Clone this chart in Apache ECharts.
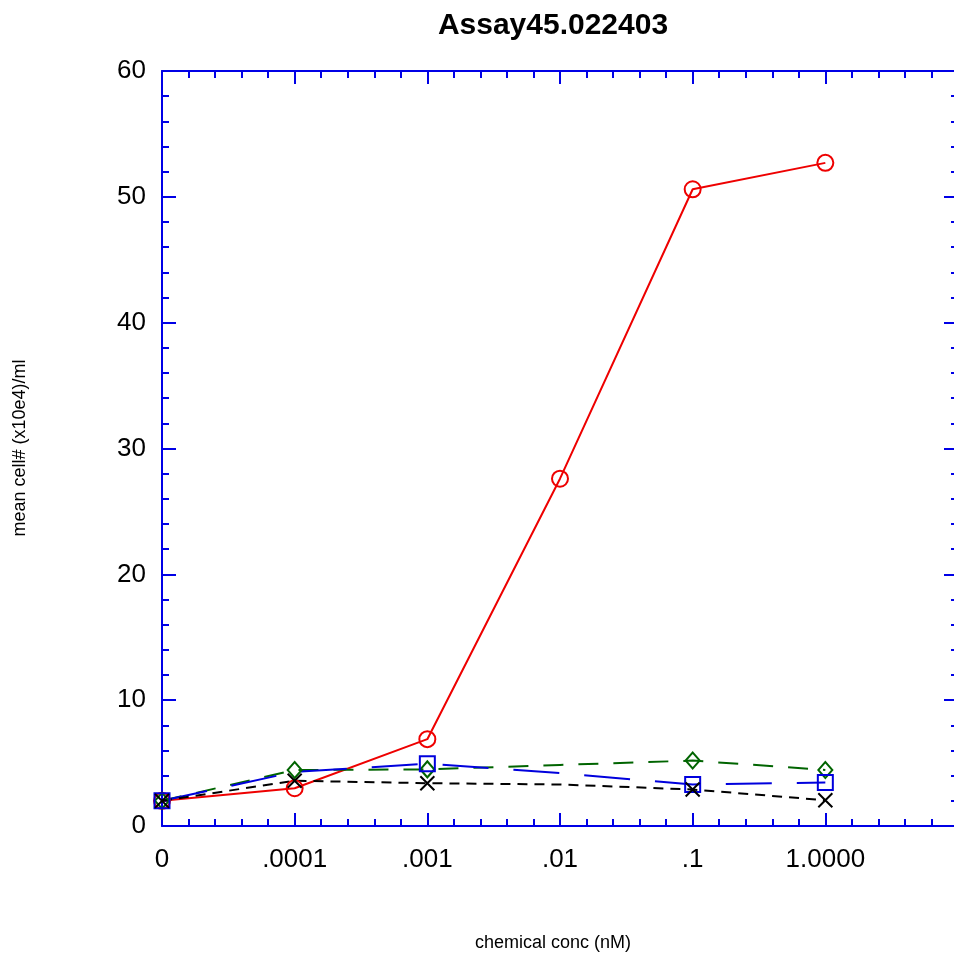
<!DOCTYPE html>
<html>
<head>
<meta charset="utf-8">
<script src="https://cdn.jsdelivr.net/npm/echarts@6/dist/echarts.min.js"></script>
<style>
html,body{margin:0;padding:0;background:#fff;}
#chart{width:954px;height:954px;}
</style>
</head>
<body>
<div id="chart"></div>
<script>
// Tick labels for the x axis (log-like concentration steps)
const xLabels = ['0', '.0001', '.001', '.01', '.1', '1.0000'];
// Series values (mean cell# x10e4/ml) at each concentration
const redValues   = [2.0, 3.0, 6.9, 27.6, 50.6, 52.7];
const greenValues = [2.0, 4.45, 4.5, 4.85, 5.2, 4.45];
const blueValues  = [2.0, 4.3, 4.95, 4.2, 3.3, 3.45];
const blackValues = [2.0, 3.6, 3.4, 3.3, 2.9, 2.05];
// which points carry a visible marker
const redMarks   = [1, 1, 1, 1, 1, 1];
const greenMarks = [1, 1, 1, 0, 1, 1];
const blueMarks  = [1, 0, 1, 0, 1, 1];
const blackMarks = [1, 1, 1, 0, 1, 1];

const FONT = '"Liberation Sans", Arial, Helvetica, sans-serif';
const AXIS_BLUE = '#0000e6';
const X_PATH = 'path://M0,0L10,10M10,0L0,10';

function build(values, marks) {
  return values.map((v, i) => marks[i] ? { value: [i, v] } : { value: [i, v], symbol: 'none' });
}

function mkSeries(name, values, marks, color, symbol, size, dash) {
  return {
    name: name,
    type: 'line',
    data: build(values, marks),
    smooth: false,
    symbol: symbol,
    symbolSize: size,
    showAllSymbol: true,
    lineStyle: { color: color, width: 2, type: dash },
    itemStyle: { color: 'rgba(0,0,0,0)', borderColor: color, borderWidth: 2 },
    emphasis: { disabled: true },
    animation: false
  };
}

const xCommon = {
  type: 'value', min: 0, max: 6, interval: 1,
  axisLine: { show: true, onZero: false, lineStyle: { color: AXIS_BLUE, width: 2 } },
  axisTick: { show: true, inside: true, length: 13, lineStyle: { color: AXIS_BLUE, width: 2 } },
  minorTick: { show: true, splitNumber: 5, length: 7, lineStyle: { color: AXIS_BLUE, width: 2 } },
  splitLine: { show: false },
  minorSplitLine: { show: false }
};
const yCommon = {
  type: 'value', min: 0, max: 60, interval: 10,
  axisLine: { show: true, onZero: false, lineStyle: { color: AXIS_BLUE, width: 2 } },
  axisTick: { show: true, inside: true, length: 14, lineStyle: { color: AXIS_BLUE, width: 2 } },
  minorTick: { show: true, splitNumber: 5, length: 7, lineStyle: { color: AXIS_BLUE, width: 2 } },
  splitLine: { show: false },
  minorSplitLine: { show: false }
};

const chart = echarts.init(document.getElementById('chart'), null, { renderer: 'canvas' });
chart.setOption({
  backgroundColor: '#fff',
  animation: false,
  grid: { left: 162, top: 71, width: 796, height: 755, containLabel: false, outerBoundsMode: 'none' },
  xAxis: [
    Object.assign({}, xCommon, {
      position: 'bottom',
      axisLabel: {
        show: true, margin: 21, color: '#000', fontSize: 26, fontFamily: FONT,
        formatter: function (v) { return xLabels[Math.round(v)] !== undefined ? xLabels[Math.round(v)] : ''; }
      }
    }),
    Object.assign({}, xCommon, { position: 'top', axisLabel: { show: false } })
  ],
  yAxis: [
    Object.assign({}, yCommon, {
      position: 'left',
      axisLabel: { show: true, margin: 16, color: '#000', fontSize: 26, fontFamily: FONT }
    }),
    Object.assign({}, yCommon, { position: 'right', axisLabel: { show: false } })
  ],
  graphic: [
    { type: 'text', x: 553, y: 26, style: { text: 'Assay45.022403', font: 'bold 30px ' + FONT, fill: '#000', align: 'center', verticalAlign: 'middle' } },
    { type: 'text', x: 553, y: 943, style: { text: 'chemical conc (nM)', font: '18px ' + FONT, fill: '#000', align: 'center', verticalAlign: 'middle' } },
    { type: 'text', x: 20, y: 448, rotation: Math.PI / 2, style: { text: 'mean cell# (x10e4)/ml', font: '18px ' + FONT, fill: '#000', align: 'center', verticalAlign: 'middle' } }
  ],
  series: [
    mkSeries('red', redValues, redMarks, '#ee0000', 'circle', 16, 'solid'),
    mkSeries('green', greenValues, greenMarks, '#006400', 'diamond', [14, 16], [20, 15]),
    mkSeries('blue', blueValues, blueMarks, '#0000dd', 'rect', 15, [46, 25]),
    mkSeries('black', blackValues, blackMarks, '#000000', X_PATH, 14, [10, 7])
  ]
});
</script>
</body>
</html>
